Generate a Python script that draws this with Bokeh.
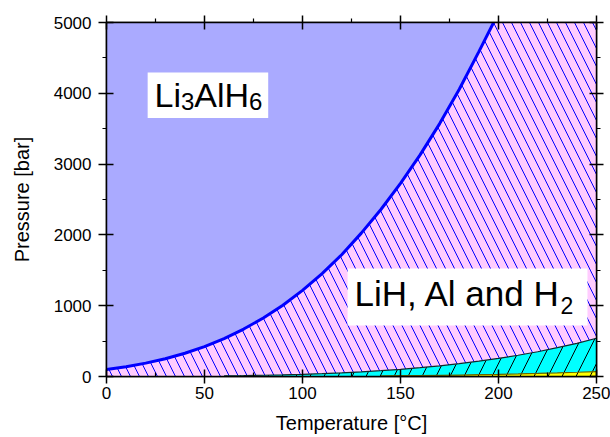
from bokeh.plotting import figure
from bokeh.models import Label, BoxAnnotation, LinearAxis, Range1d, FixedTicker
from bokeh.embed import file_html
from bokeh.resources import INLINE

# ---- data ----
curve_t = [0, 10, 20, 30, 40, 50, 60, 70, 80, 90, 100, 110, 120, 130, 140,
           150, 160, 170, 180, 190, 197.5]
curve_p = [100, 139, 189, 251, 329, 423, 536, 670, 826, 1007, 1216, 1454,
           1720, 2025, 2359, 2728, 3130, 3572, 4057, 4588, 5000]

cyan_t = [60, 70, 80, 90, 100, 110, 120, 130, 140, 150, 160, 170, 180, 190,
          200, 210, 220, 230, 240, 250]
cyan_p = [9.5, 13, 18, 24, 31, 41, 52, 66, 82, 101, 124, 150, 181, 216, 256,
          300, 350, 408, 469, 540]

yellow_t = [140, 150, 160, 170, 180, 190, 200, 210, 220, 230, 240, 250]
yellow_p = [8.7, 11, 13.7, 16.9, 20.8, 25.3, 30.6, 36.5, 43.3, 51.2, 59.9, 70]

x_ticks = [0, 50, 100, 150, 200, 250]
x_minor = [25, 75, 125, 175, 225]
y_ticks = [0, 1000, 2000, 3000, 4000, 5000]
y_minor = [500, 1500, 2500, 3500, 4500]

x_min, x_max = x_ticks[0], x_ticks[-1]
y_min, y_max = y_ticks[0], y_ticks[-1]

FONT = "Liberation Sans"

p = figure(width=610, height=437, output_backend="svg", toolbar_location=None,
           x_range=Range1d(x_min, x_max), y_range=Range1d(y_min, y_max),
           min_border_left=106, min_border_right=14, min_border_top=22,
           min_border_bottom=61)
p.background_fill_color = "white"
p.border_fill_color = "white"
p.outline_line_color = "black"
p.outline_line_width = 1.5
p.xgrid.visible = False
p.ygrid.visible = False

# ---- regions ----
upper_t = curve_t + [200, x_max]
upper_p = curve_p + [y_max, y_max]
p.varea(x=upper_t, y1=[y_min] * len(upper_t), y2=upper_p,
        fill_color="#FFCCFF", hatch_pattern="\\", hatch_color="#0000FF",
        hatch_scale=18, hatch_weight=1)
p.varea(x=curve_t, y1=curve_p, y2=[y_max] * len(curve_t), fill_color="#AAAAFF")
p.varea(x=cyan_t, y1=[y_min] * len(cyan_t), y2=cyan_p, fill_color="#00FFFF",
        hatch_pattern="/", hatch_color="black", hatch_scale=28, hatch_weight=1)
p.line(cyan_t, cyan_p, line_color="#102a2a", line_width=1.2)
p.varea(x=yellow_t, y1=[y_min] * len(yellow_t), y2=yellow_p, fill_color="#FFFF00",
        hatch_pattern="/", hatch_color="black", hatch_scale=28, hatch_weight=1)
p.line(yellow_t, yellow_p, line_color="#666600", line_width=1.2)
p.line(curve_t, curve_p, line_color="#0000FF", line_width=3)

# ---- axes ----
def style_axis(ax, ticks, minor, tin, tout, min_in, min_out, labels=True):
    ax.ticker = FixedTicker(ticks=ticks, minor_ticks=minor)
    ax.axis_line_color = "black"
    ax.axis_line_width = 1.5
    ax.major_tick_line_color = "black"
    ax.major_tick_line_width = 1.5
    ax.minor_tick_line_color = "black"
    ax.minor_tick_line_width = 1.2
    ax.major_tick_in = tin
    ax.major_tick_out = tout
    ax.minor_tick_in = min_in
    ax.minor_tick_out = min_out
    ax.major_label_text_font = FONT
    ax.major_label_text_font_size = "17px"
    ax.major_label_text_color = "black"
    ax.axis_label_text_font = FONT
    ax.axis_label_text_font_size = "20px"
    ax.axis_label_text_font_style = "normal"
    ax.axis_label_text_color = "black"
    if not labels:
        ax.major_label_overrides = {t: "" for t in ticks}
        ax.major_label_text_font_size = "0px"
        ax.major_label_standoff = 0

style_axis(p.xaxis[0], x_ticks, x_minor, 7, 7, 4, 0)
style_axis(p.yaxis[0], y_ticks, y_minor, 7, 8, 0, 4)
p.xaxis[0].axis_label = "Temperature [°C]"
p.yaxis[0].axis_label = "Pressure [bar]"
p.xaxis[0].major_label_standoff = 3
p.xaxis[0].axis_label_standoff = 10
p.yaxis[0].major_label_standoff = 7
p.yaxis[0].axis_label_standoff = 18

top = LinearAxis()
style_axis(top, x_ticks, x_minor, 7, 7, 0, 4, labels=False)
p.add_layout(top, "above")
right = LinearAxis()
style_axis(right, y_ticks, y_minor, 7, 7, 0, 4, labels=False)
p.add_layout(right, "right")

# ---- label boxes ----
p.add_layout(BoxAnnotation(left=21, right=82.5, bottom=3650, top=4295,
                           fill_color="white", fill_alpha=1, line_color=None))
p.add_layout(BoxAnnotation(left=123, right=245.4, bottom=720, top=1525,
                           fill_color="white", fill_alpha=1, line_color=None))

def add_text(x, y, text, size, dx=0, dy=0):
    p.add_layout(Label(x=x, y=y, x_offset=dx, y_offset=dy, text=text,
                       text_font=FONT, text_font_size=size, text_color="black",
                       text_baseline="alphabetic", text_align="left"))

# Li3AlH6
lx, ly = 24.5, 3800
add_text(lx, ly, "Li", "34px", dy=12)
add_text(lx, ly, "3", "24px", dx=26.5, dy=6)
add_text(lx, ly, "AlH", "34px", dx=39.8, dy=12)
add_text(lx, ly, "6", "24px", dx=94.5, dy=6)

# LiH, Al and H2
mx, my = 126.5, 1003
add_text(mx, my, "LiH, Al and H", "35px", dy=12)
add_text(mx, my, "2", "23px", dx=206, dy=0)

open("out.html", "w").write(file_html(p, INLINE))
